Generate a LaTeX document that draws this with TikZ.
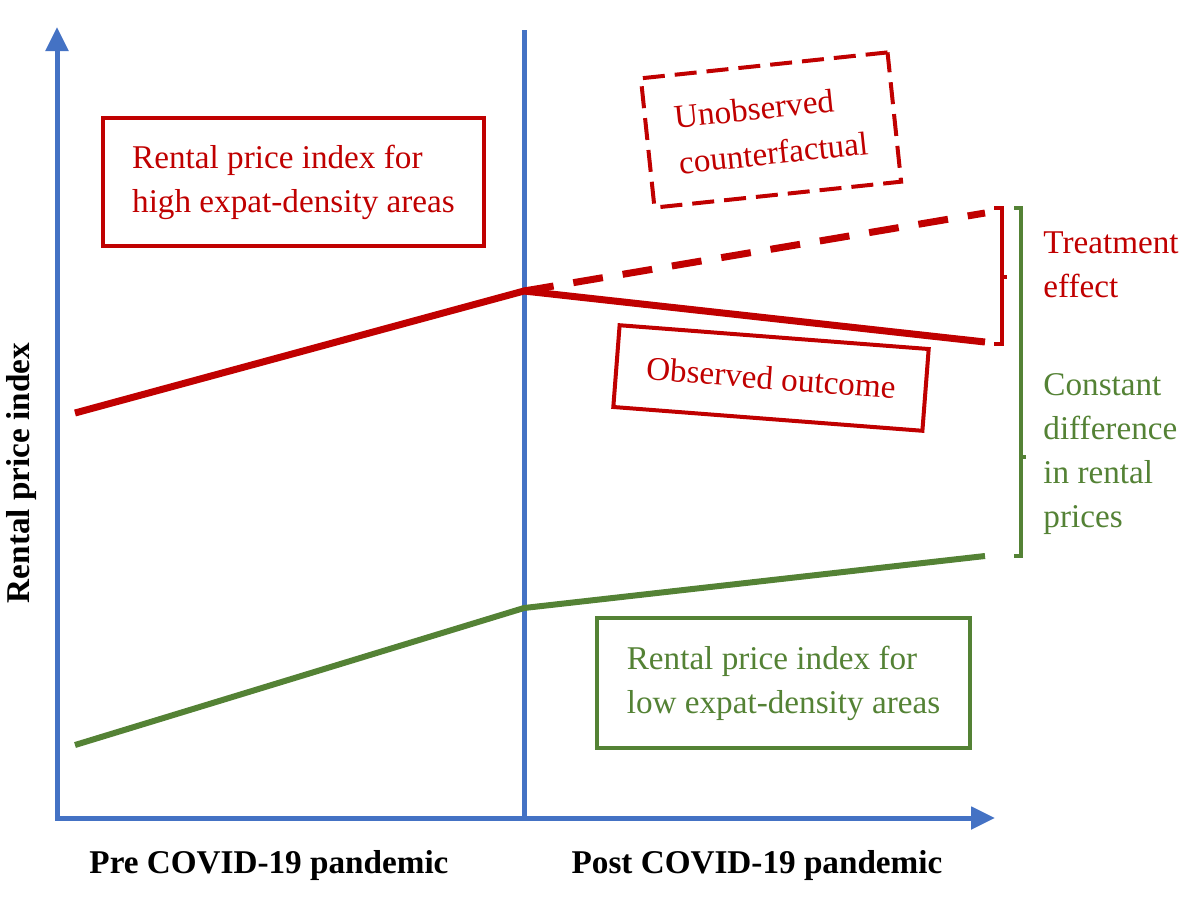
\documentclass[tikz,border=0pt]{standalone}
\usepackage{fontspec}
\setmainfont{Liberation Serif}
\usetikzlibrary{arrows.meta}
\definecolor{axisblue}{HTML}{4472C4}
\definecolor{hired}{HTML}{C00000}
\definecolor{logreen}{HTML}{548235}
\newcommand{\lbltext}{\fontsize{16.6}{22}\selectfont}
\newcommand{\lblbold}{\fontsize{16.6}{22}\selectfont\bfseries}

\begin{document}
\begin{tikzpicture}[x=0.5pt,y=-0.5pt,
    axis/.style={axisblue,line width=2.5pt},
    hiline/.style={hired,line width=3.5pt},
    loline/.style={logreen,line width=3pt},
    redbox/.style={draw=hired,line width=2pt,text=hired,font=\lbltext,align=left,inner sep=0pt},
    greenbox/.style={draw=logreen,line width=2pt,text=logreen,font=\lbltext,align=left,inner sep=0pt},
    brace/.style={line width=1.6pt}]
  \useasboundingbox (0,0) rectangle (1190,912);
  % axes
  \coordinate (yTip) at (57,27);
  \coordinate (O) at (57,818);
  \coordinate (xTip) at (995,818);
  \coordinate (mTop) at (524,30);
  \coordinate (mBot) at (524,818);
  \draw[axis,{Triangle[width=11pt,length=12pt]}-{Triangle[width=11pt,length=12pt]}] (yTip) -- (O) -- (xTip);
  \draw[axis] (mTop) -- (mBot);
  % index lines
  \coordinate (hiPre) at (75,413);
  \coordinate (hiMid) at (524,291);
  \coordinate (hiPost) at (985,342);
  \coordinate (hiCf) at (985,213);
  \coordinate (loPre) at (75,745);
  \coordinate (loMid) at (524,608);
  \coordinate (loPost) at (985,556);
  \draw[hiline] (hiPre) -- (hiMid) -- (hiPost);
  \draw[hiline,dash pattern=on 15pt off 10pt] (hiMid) -- (hiCf);
  \draw[loline] (loPre) -- (loMid) -- (loPost);
  % boxes
  \node[redbox,minimum width=190.5pt,minimum height=64pt] (hiBox) at (293.5,182)
    {Rental price index for\\high expat-density areas};
  \node[redbox,dash pattern=on 11pt off 5pt,rotate=6,
    minimum width=124pt,minimum height=65pt] (cfBox) at (771,130) {Unobserved\\[1pt]counterfactual};
  \node[redbox,rotate=-4.4,minimum width=155pt,minimum height=41pt] (obsBox) at (771,378)
    {Observed outcome};
  \node[greenbox,minimum width=186.5pt,minimum height=65pt] (loBox) at (783.5,683)
    {Rental price index for\\low expat-density areas};
  % braces
  \draw[hired,brace] (994,208) -| (1002,344) -- (994,344);
  \draw[hired,brace] (1002,277) -- (1007,277);
  \draw[logreen,brace] (1014,208) -| (1021,556) -- (1014,556);
  \draw[logreen,brace] (1021,457) -- (1026,457);
  \node[text=hired,font=\lbltext,align=left,inner sep=0pt,anchor=west] (effLbl) at (1043,265)
    {Treatment\\effect};
  \node[text=logreen,font=\lbltext,align=left,inner sep=0pt,anchor=west] (diffLbl) at (1043,454)
    {Constant\\difference\\in rental\\prices};
  % axis labels
  \node[font=\lblbold] (preLbl) at (269,866) {Pre COVID-19 pandemic};
  \node[font=\lblbold] (postLbl) at (757,866) {Post COVID-19 pandemic};
  \node[font=\lblbold,rotate=90] (yLbl) at (22,473) {Rental price index};
\end{tikzpicture}
\end{document}
